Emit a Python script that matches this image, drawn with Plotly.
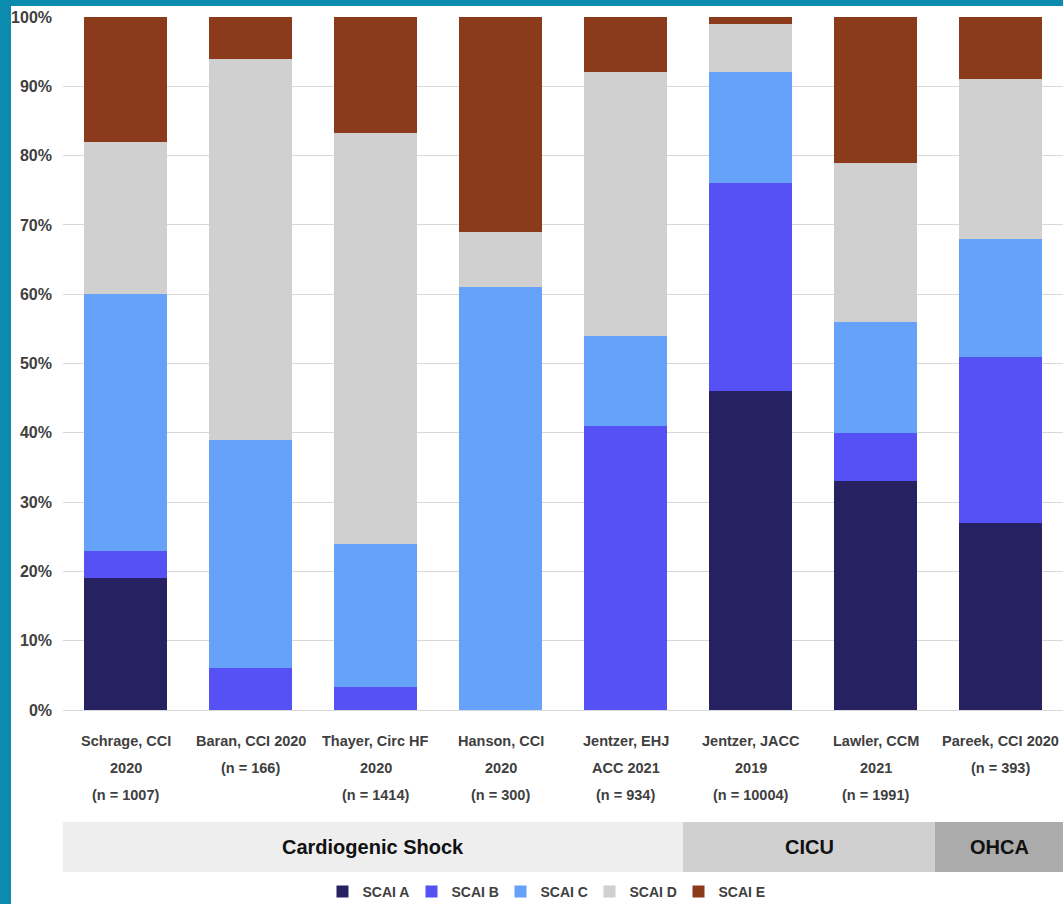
import plotly.graph_objects as go

category_lines = [
    ["Schrage, CCI", "2020", "(n = 1007)"],
    ["Baran, CCI 2020", "(n = 166)"],
    ["Thayer, Circ HF", "2020", "(n = 1414)"],
    ["Hanson, CCI", "2020", "(n = 300)"],
    ["Jentzer, EHJ", "ACC 2021", "(n = 934)"],
    ["Jentzer, JACC", "2019", "(n = 10004)"],
    ["Lawler, CCM", "2021", "(n = 1991)"],
    ["Pareek, CCI 2020", "(n = 393)"],
]
categories = [" ".join(c) for c in category_lines]
scai_a = [19, 0, 0, 0, 0, 46, 33, 27]
scai_b = [4, 6, 3.3, 0, 41, 30, 7, 24]
scai_c = [37, 33, 20.7, 61, 13, 16, 16, 17]
scai_d = [22, 55, 59.3, 8, 38, 7, 23, 23]
scai_e = [18, 6, 16.7, 31, 8, 1, 21, 9]
series_names = ["SCAI A", "SCAI B", "SCAI C", "SCAI D", "SCAI E"]
colors = ["#262262", "#5551F5", "#67A2FA", "#D0D0D0", "#8B3A1C"]

groups = ["Cardiogenic Shock", "CICU", "OHCA"]
group_bounds = [(0.0, 0.62), (0.62, 0.872), (0.872, 1.0)]
group_colors = ["#EEEEEE", "#D0D0D0", "#ABABAB"]

FONT = "Liberation Sans, Arial, sans-serif"

fig = go.Figure()
for name, vals, col in zip(series_names, [scai_a, scai_b, scai_c, scai_d, scai_e], colors):
    fig.add_trace(go.Bar(x=categories, y=vals, name=name, marker_color=col,
                         marker_line_width=0))

W, H = 1063, 904
L, R, T, B = 63, 0, 17, 194
pw, ph = W - L - R, H - T - B

def px_x(p):
    return (p - L) / pw

def px_y(p):
    return (H - B - p) / ph

shapes = [
    dict(type="rect", xref="paper", yref="paper", layer="below",
         x0=px_x(11), x1=px_x(W + 5), y0=px_y(H + 5), y1=px_y(6),
         fillcolor="white", line_width=0),
]
annotations = []
band_top, band_bot = px_y(822), px_y(872)
for g, (x0, x1), c in zip(groups, group_bounds, group_colors):
    shapes.append(dict(type="rect", xref="paper", yref="paper", layer="below",
                       x0=x0, x1=x1, y0=band_bot, y1=band_top,
                       fillcolor=c, line_width=0))
    annotations.append(dict(xref="paper", yref="paper", x=(x0 + x1) / 2,
                            y=(band_top + band_bot) / 2, text=g,
                            showarrow=False, xanchor="center", yanchor="middle",
                            font=dict(family=FONT, size=20, color="#111111",
                                      weight="bold")))

# category labels, one annotation per line for the wider line spacing
for cat, lines in zip(categories, category_lines):
    for i, line in enumerate(lines):
        annotations.append(dict(xref="x", yref="paper", x=cat, y=0,
                                yshift=-(31 + 27 * i), text=line,
                                showarrow=False, xanchor="center", yanchor="middle",
                                font=dict(family=FONT, size=14.5, color="#404040",
                                          weight="bold")))

fig.update_layout(
    width=W, height=H,
    margin=dict(l=L, r=R, t=T, b=B, pad=0),
    barmode="stack",
    bargap=0.336,
    paper_bgcolor="#0B8BAE",
    plot_bgcolor="rgba(0,0,0,0)",
    shapes=shapes,
    annotations=annotations,
    font=dict(family=FONT, color="#404040"),
    xaxis=dict(showticklabels=False, showgrid=False, showline=False, ticks="",
               automargin=False, fixedrange=True),
    yaxis=dict(range=[0, 100], dtick=10, ticksuffix="%",
               tickfont=dict(family=FONT, size=16, color="#404040", weight="bold"),
               showgrid=True, gridcolor="#D9D9D9", gridwidth=1,
               zeroline=True, zerolinecolor="#D9D9D9", zerolinewidth=1,
               showline=False, ticks="", ticklabelstandoff=10, automargin=False,
               fixedrange=True),
    legend=dict(orientation="h", xref="container", yref="container",
                x=545 / W, xanchor="center", y=(H - 892) / H, yanchor="middle",
                font=dict(family=FONT, size=14, color="#404040", weight="bold"),
                bgcolor="rgba(0,0,0,0)", borderwidth=0, itemwidth=30, entrywidth=44,
                traceorder="normal", tracegroupgap=0),
)

fig.write_html("out.html", config={"displayModeBar": False},
               post_script="document.body.style.margin='0';document.body.style.overflow='hidden';")
